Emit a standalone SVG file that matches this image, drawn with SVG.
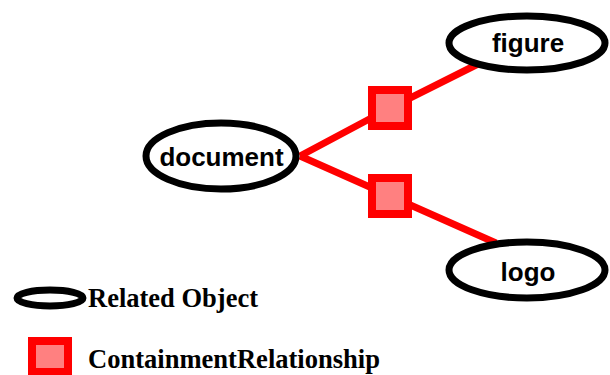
<svg xmlns="http://www.w3.org/2000/svg" width="610" height="375" viewBox="0 0 610 375">
<style>
.obj{fill:#fff;stroke:#000;stroke-width:7}
.rel{fill:#ff8080;stroke:#ff0000;stroke-width:8}
.edge{stroke:#ff0000;stroke-width:7;fill:none}
.lbl{font-family:"Liberation Sans",Arial,sans-serif;font-weight:bold;font-size:26px;text-anchor:middle;fill:#000}
.leg{font-family:"Liberation Serif","Times New Roman",serif;font-weight:bold;font-size:26.5px;fill:#000}
</style>
<rect width="610" height="375" fill="#fff"/>
<g id="connectors">
<polyline class="edge" points="300,156 390,108 482,62"/>
<polyline class="edge" points="300,156 390,196 496,243"/>
</g>
<g id="rel1"><rect class="rel" x="372" y="90" width="36" height="36"/></g>
<g id="rel2"><rect class="rel" x="372" y="178" width="36" height="36"/></g>
<g id="document"><ellipse class="obj" cx="221" cy="156" rx="75" ry="33"/><text class="lbl" x="221.5" y="166">document</text></g>
<g id="figure"><ellipse class="obj" cx="527" cy="43" rx="78" ry="27"/><text class="lbl" x="528" y="52">figure</text></g>
<g id="logo"><ellipse class="obj" cx="527" cy="270" rx="78" ry="28"/><text class="lbl" x="528" y="281">logo</text></g>
<g id="legend">
<ellipse class="obj" cx="50" cy="298" rx="33" ry="8"/>
<text class="leg" x="88" y="307" textLength="170" lengthAdjust="spacingAndGlyphs">Related Object</text>
<rect class="rel" x="32" y="341" width="36" height="31"/>
<text class="leg" x="88" y="368" textLength="292" lengthAdjust="spacingAndGlyphs">ContainmentRelationship</text>
</g>
</svg>
